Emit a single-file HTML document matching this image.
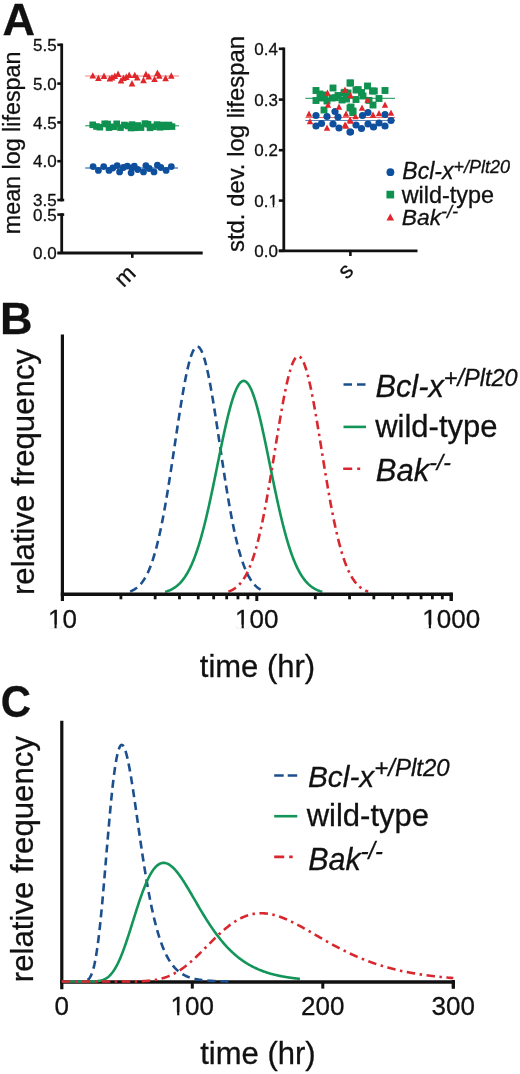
<!DOCTYPE html>
<html><head><meta charset="utf-8"><title>Figure</title>
<style>
html,body{margin:0;padding:0;background:#fff;width:520px;height:1074px;overflow:hidden;}
svg{display:block;will-change:transform;}
text{font-family:"Liberation Sans",sans-serif;stroke:#111;stroke-width:0.3px;}
</style></head><body>
<svg width="520" height="1074" viewBox="0 0 520 1074">
<rect width="520" height="1074" fill="#fff"/>
<text x="2.45" y="34.60" font-size="45" text-anchor="start" font-weight="bold" font-style="normal" fill="#111" >A</text>
<line x1="61.70" y1="43.50" x2="61.70" y2="201.30" stroke="#111" stroke-width="2.8" />
<line x1="57.30" y1="44.80" x2="61.70" y2="44.80" stroke="#111" stroke-width="2.6" />
<text x="56.60" y="51.00" font-size="17" text-anchor="end" font-weight="normal" font-style="normal" fill="#111" >5.5</text>
<line x1="57.30" y1="83.60" x2="61.70" y2="83.60" stroke="#111" stroke-width="2.6" />
<text x="56.60" y="89.80" font-size="17" text-anchor="end" font-weight="normal" font-style="normal" fill="#111" >5.0</text>
<line x1="57.30" y1="122.40" x2="61.70" y2="122.40" stroke="#111" stroke-width="2.6" />
<text x="56.60" y="128.60" font-size="17" text-anchor="end" font-weight="normal" font-style="normal" fill="#111" >4.5</text>
<line x1="57.30" y1="161.20" x2="61.70" y2="161.20" stroke="#111" stroke-width="2.6" />
<text x="56.60" y="167.40" font-size="17" text-anchor="end" font-weight="normal" font-style="normal" fill="#111" >4.0</text>
<line x1="57.30" y1="200.00" x2="61.70" y2="200.00" stroke="#111" stroke-width="2.6" />
<text x="56.60" y="206.20" font-size="17" text-anchor="end" font-weight="normal" font-style="normal" fill="#111" >3.5</text>
<line x1="60.70" y1="200.00" x2="64.20" y2="200.00" stroke="#111" stroke-width="2.6" />
<line x1="61.70" y1="213.30" x2="61.70" y2="253.00" stroke="#111" stroke-width="2.8" />
<line x1="57.30" y1="214.60" x2="64.20" y2="214.60" stroke="#111" stroke-width="2.6" />
<text x="56.60" y="220.80" font-size="17" text-anchor="end" font-weight="normal" font-style="normal" fill="#111" >0.5</text>
<line x1="57.30" y1="253.00" x2="202.70" y2="253.00" stroke="#111" stroke-width="2.8" />
<text x="56.60" y="259.20" font-size="17" text-anchor="end" font-weight="normal" font-style="normal" fill="#111" >0.0</text>
<line x1="132.30" y1="253.00" x2="132.30" y2="257.90" stroke="#111" stroke-width="2.6" />
<text transform="translate(126.5,277.5) rotate(-45)" x="0" y="5.5" font-size="23" text-anchor="middle" fill="#111">m</text>
<text transform="translate(20.2,142.9) rotate(-90)" x="0" y="0" font-size="23.3" text-anchor="middle" fill="#111">mean log lifespan</text>
<line x1="85.20" y1="76.00" x2="179.00" y2="76.00" stroke="#ef6f6f" stroke-width="0.9" />
<line x1="85.20" y1="125.80" x2="179.00" y2="125.80" stroke="#0f9150" stroke-width="1.0" />
<line x1="85.20" y1="168.00" x2="178.00" y2="168.00" stroke="#0e4f9e" stroke-width="1.0" />
<path d="M92.80,72.18 L96.10,78.58 L89.50,78.58 Z" fill="#e0262b"/>
<path d="M98.40,74.68 L101.70,81.08 L95.10,81.08 Z" fill="#e0262b"/>
<path d="M104.00,72.48 L107.30,78.88 L100.70,78.88 Z" fill="#e0262b"/>
<path d="M109.80,75.18 L113.10,81.58 L106.50,81.58 Z" fill="#e0262b"/>
<path d="M114.80,72.48 L118.10,78.88 L111.50,78.88 Z" fill="#e0262b"/>
<path d="M118.10,70.48 L121.40,76.88 L114.80,76.88 Z" fill="#e0262b"/>
<path d="M121.00,76.98 L124.30,83.38 L117.70,83.38 Z" fill="#e0262b"/>
<path d="M126.30,73.48 L129.60,79.88 L123.00,79.88 Z" fill="#e0262b"/>
<path d="M129.20,71.48 L132.50,77.88 L125.90,77.88 Z" fill="#e0262b"/>
<path d="M132.00,79.98 L135.30,86.38 L128.70,86.38 Z" fill="#e0262b"/>
<path d="M134.80,71.68 L138.10,78.08 L131.50,78.08 Z" fill="#e0262b"/>
<path d="M137.20,74.18 L140.50,80.58 L133.90,80.58 Z" fill="#e0262b"/>
<path d="M143.50,76.78 L146.80,83.18 L140.20,83.18 Z" fill="#e0262b"/>
<path d="M145.90,70.78 L149.20,77.18 L142.60,77.18 Z" fill="#e0262b"/>
<path d="M148.80,72.98 L152.10,79.38 L145.50,79.38 Z" fill="#e0262b"/>
<path d="M154.50,75.68 L157.80,82.08 L151.20,82.08 Z" fill="#e0262b"/>
<path d="M157.40,69.48 L160.70,75.88 L154.10,75.88 Z" fill="#e0262b"/>
<path d="M159.30,72.28 L162.60,78.68 L156.00,78.68 Z" fill="#e0262b"/>
<path d="M165.60,74.78 L168.90,81.18 L162.30,81.18 Z" fill="#e0262b"/>
<path d="M171.30,72.28 L174.60,78.68 L168.00,78.68 Z" fill="#e0262b"/>
<path d="M112.00,73.98 L115.30,80.38 L108.70,80.38 Z" fill="#e0262b"/>
<path d="M123.50,74.48 L126.80,80.88 L120.20,80.88 Z" fill="#e0262b"/>
<rect x="89.40" y="121.50" width="6.6" height="6.6" fill="#0f9150"/>
<rect x="93.20" y="123.20" width="6.6" height="6.6" fill="#0f9150"/>
<rect x="96.60" y="123.90" width="6.6" height="6.6" fill="#0f9150"/>
<rect x="101.40" y="120.50" width="6.6" height="6.6" fill="#0f9150"/>
<rect x="104.30" y="120.70" width="6.6" height="6.6" fill="#0f9150"/>
<rect x="105.70" y="124.30" width="6.6" height="6.6" fill="#0f9150"/>
<rect x="110.50" y="123.50" width="6.6" height="6.6" fill="#0f9150"/>
<rect x="113.40" y="120.50" width="6.6" height="6.6" fill="#0f9150"/>
<rect x="117.20" y="124.30" width="6.6" height="6.6" fill="#0f9150"/>
<rect x="121.10" y="121.70" width="6.6" height="6.6" fill="#0f9150"/>
<rect x="124.90" y="122.70" width="6.6" height="6.6" fill="#0f9150"/>
<rect x="128.70" y="121.30" width="6.6" height="6.6" fill="#0f9150"/>
<rect x="127.70" y="124.70" width="6.6" height="6.6" fill="#0f9150"/>
<rect x="131.70" y="124.50" width="6.6" height="6.6" fill="#0f9150"/>
<rect x="134.70" y="122.20" width="6.6" height="6.6" fill="#0f9150"/>
<rect x="137.70" y="124.30" width="6.6" height="6.6" fill="#0f9150"/>
<rect x="141.70" y="120.30" width="6.6" height="6.6" fill="#0f9150"/>
<rect x="144.70" y="120.90" width="6.6" height="6.6" fill="#0f9150"/>
<rect x="146.70" y="124.50" width="6.6" height="6.6" fill="#0f9150"/>
<rect x="150.20" y="123.50" width="6.6" height="6.6" fill="#0f9150"/>
<rect x="153.70" y="121.30" width="6.6" height="6.6" fill="#0f9150"/>
<rect x="156.70" y="124.00" width="6.6" height="6.6" fill="#0f9150"/>
<rect x="159.70" y="121.70" width="6.6" height="6.6" fill="#0f9150"/>
<rect x="162.70" y="123.50" width="6.6" height="6.6" fill="#0f9150"/>
<rect x="165.70" y="121.70" width="6.6" height="6.6" fill="#0f9150"/>
<rect x="168.70" y="123.30" width="6.6" height="6.6" fill="#0f9150"/>
<circle cx="93.10" cy="166.60" r="3.4" fill="#0e4f9e"/>
<circle cx="98.40" cy="170.40" r="3.4" fill="#0e4f9e"/>
<circle cx="103.70" cy="166.60" r="3.4" fill="#0e4f9e"/>
<circle cx="109.00" cy="170.40" r="3.4" fill="#0e4f9e"/>
<circle cx="112.80" cy="168.00" r="3.4" fill="#0e4f9e"/>
<circle cx="117.20" cy="165.60" r="3.4" fill="#0e4f9e"/>
<circle cx="119.60" cy="171.90" r="3.4" fill="#0e4f9e"/>
<circle cx="123.40" cy="167.50" r="3.4" fill="#0e4f9e"/>
<circle cx="127.30" cy="166.10" r="3.4" fill="#0e4f9e"/>
<circle cx="131.10" cy="172.80" r="3.4" fill="#0e4f9e"/>
<circle cx="132.00" cy="168.00" r="3.4" fill="#0e4f9e"/>
<circle cx="134.30" cy="166.10" r="3.4" fill="#0e4f9e"/>
<circle cx="137.70" cy="169.50" r="3.4" fill="#0e4f9e"/>
<circle cx="143.50" cy="171.90" r="3.4" fill="#0e4f9e"/>
<circle cx="145.90" cy="165.60" r="3.4" fill="#0e4f9e"/>
<circle cx="149.20" cy="168.50" r="3.4" fill="#0e4f9e"/>
<circle cx="154.00" cy="171.90" r="3.4" fill="#0e4f9e"/>
<circle cx="157.40" cy="165.10" r="3.4" fill="#0e4f9e"/>
<circle cx="160.80" cy="167.50" r="3.4" fill="#0e4f9e"/>
<circle cx="166.10" cy="170.40" r="3.4" fill="#0e4f9e"/>
<circle cx="171.30" cy="166.60" r="3.4" fill="#0e4f9e"/>
<line x1="283.80" y1="47.50" x2="283.80" y2="252.00" stroke="#111" stroke-width="2.8" />
<line x1="278.80" y1="48.80" x2="283.80" y2="48.80" stroke="#111" stroke-width="2.6" />
<text x="278.00" y="55.00" font-size="17" text-anchor="end" font-weight="normal" font-style="normal" fill="#111" >0.4</text>
<line x1="278.80" y1="99.60" x2="283.80" y2="99.60" stroke="#111" stroke-width="2.6" />
<text x="278.00" y="105.80" font-size="17" text-anchor="end" font-weight="normal" font-style="normal" fill="#111" >0.3</text>
<line x1="278.80" y1="150.20" x2="283.80" y2="150.20" stroke="#111" stroke-width="2.6" />
<text x="278.00" y="156.40" font-size="17" text-anchor="end" font-weight="normal" font-style="normal" fill="#111" >0.2</text>
<line x1="278.80" y1="200.60" x2="283.80" y2="200.60" stroke="#111" stroke-width="2.6" />
<text x="278.00" y="206.80" font-size="17" text-anchor="end" font-weight="normal" font-style="normal" fill="#111" >0.1</text>
<rect x="269.40" y="204.93" width="3.43" height="2.72" fill="#fff"/>
<rect x="274.21" y="204.93" width="3.35" height="2.72" fill="#fff"/>
<line x1="278.80" y1="250.80" x2="283.80" y2="250.80" stroke="#111" stroke-width="2.6" />
<text x="278.00" y="257.00" font-size="17" text-anchor="end" font-weight="normal" font-style="normal" fill="#111" >0.0</text>
<line x1="278.80" y1="250.80" x2="417.50" y2="250.80" stroke="#111" stroke-width="2.8" />
<line x1="350.40" y1="250.80" x2="350.40" y2="256.00" stroke="#111" stroke-width="2.6" />
<text transform="translate(347.2,272.5) rotate(-45)" x="0" y="5" font-size="22.5" text-anchor="middle" fill="#111">s</text>
<text transform="translate(244,144) rotate(-90)" x="0" y="0" font-size="23.9" text-anchor="middle" fill="#111">std. dev. log lifespan</text>
<line x1="305.30" y1="98.30" x2="395.00" y2="98.30" stroke="#0f9150" stroke-width="1.0" />
<line x1="305.30" y1="120.50" x2="395.00" y2="120.50" stroke="#0e4f9e" stroke-width="0.7" />
<line x1="305.30" y1="117.50" x2="395.00" y2="117.50" stroke="#e0262b" stroke-width="0.7" />
<rect x="312.55" y="87.05" width="6.9" height="6.9" fill="#0f9150"/>
<rect x="312.55" y="97.05" width="6.9" height="6.9" fill="#0f9150"/>
<rect x="318.05" y="94.55" width="6.9" height="6.9" fill="#0f9150"/>
<rect x="329.55" y="84.55" width="6.9" height="6.9" fill="#0f9150"/>
<rect x="328.55" y="94.55" width="6.9" height="6.9" fill="#0f9150"/>
<rect x="334.55" y="92.05" width="6.9" height="6.9" fill="#0f9150"/>
<rect x="338.55" y="96.55" width="6.9" height="6.9" fill="#0f9150"/>
<rect x="346.55" y="79.55" width="6.9" height="6.9" fill="#0f9150"/>
<rect x="344.55" y="89.55" width="6.9" height="6.9" fill="#0f9150"/>
<rect x="320.55" y="106.55" width="6.9" height="6.9" fill="#0f9150"/>
<rect x="346.55" y="104.55" width="6.9" height="6.9" fill="#0f9150"/>
<rect x="347.05" y="79.55" width="6.9" height="6.9" fill="#0f9150"/>
<rect x="352.55" y="86.55" width="6.9" height="6.9" fill="#0f9150"/>
<rect x="358.05" y="89.05" width="6.9" height="6.9" fill="#0f9150"/>
<rect x="364.05" y="82.55" width="6.9" height="6.9" fill="#0f9150"/>
<rect x="369.05" y="87.55" width="6.9" height="6.9" fill="#0f9150"/>
<rect x="381.55" y="87.05" width="6.9" height="6.9" fill="#0f9150"/>
<rect x="343.05" y="95.55" width="6.9" height="6.9" fill="#0f9150"/>
<rect x="352.55" y="96.05" width="6.9" height="6.9" fill="#0f9150"/>
<rect x="359.55" y="92.55" width="6.9" height="6.9" fill="#0f9150"/>
<rect x="375.55" y="95.05" width="6.9" height="6.9" fill="#0f9150"/>
<rect x="369.55" y="101.55" width="6.9" height="6.9" fill="#0f9150"/>
<rect x="347.55" y="103.55" width="6.9" height="6.9" fill="#0f9150"/>
<rect x="349.55" y="107.55" width="6.9" height="6.9" fill="#0f9150"/>
<rect x="323.55" y="97.55" width="6.9" height="6.9" fill="#0f9150"/>
<rect x="340.55" y="89.55" width="6.9" height="6.9" fill="#0f9150"/>
<rect x="321.05" y="91.55" width="6.9" height="6.9" fill="#0f9150"/>
<rect x="331.85" y="94.25" width="6.9" height="6.9" fill="#0f9150"/>
<rect x="341.25" y="88.85" width="6.9" height="6.9" fill="#0f9150"/>
<rect x="354.75" y="86.15" width="6.9" height="6.9" fill="#0f9150"/>
<rect x="370.85" y="87.55" width="6.9" height="6.9" fill="#0f9150"/>
<rect x="365.55" y="96.95" width="6.9" height="6.9" fill="#0f9150"/>
<rect x="349.35" y="109.15" width="6.9" height="6.9" fill="#0f9150"/>
<rect x="316.55" y="90.55" width="6.9" height="6.9" fill="#0f9150"/>
<circle cx="316.00" cy="115.50" r="3.6" fill="#0e4f9e"/>
<circle cx="327.00" cy="116.50" r="3.6" fill="#0e4f9e"/>
<circle cx="335.00" cy="111.50" r="3.6" fill="#0e4f9e"/>
<circle cx="338.00" cy="117.00" r="3.6" fill="#0e4f9e"/>
<circle cx="316.00" cy="126.00" r="3.6" fill="#0e4f9e"/>
<circle cx="321.50" cy="123.50" r="3.6" fill="#0e4f9e"/>
<circle cx="333.00" cy="124.00" r="3.6" fill="#0e4f9e"/>
<circle cx="339.00" cy="128.00" r="3.6" fill="#0e4f9e"/>
<circle cx="350.00" cy="132.00" r="3.6" fill="#0e4f9e"/>
<circle cx="362.50" cy="115.50" r="3.6" fill="#0e4f9e"/>
<circle cx="368.00" cy="112.50" r="3.6" fill="#0e4f9e"/>
<circle cx="385.00" cy="114.50" r="3.6" fill="#0e4f9e"/>
<circle cx="391.00" cy="120.50" r="3.6" fill="#0e4f9e"/>
<circle cx="356.00" cy="125.00" r="3.6" fill="#0e4f9e"/>
<circle cx="361.50" cy="128.50" r="3.6" fill="#0e4f9e"/>
<circle cx="368.00" cy="124.00" r="3.6" fill="#0e4f9e"/>
<circle cx="373.50" cy="127.00" r="3.6" fill="#0e4f9e"/>
<circle cx="379.00" cy="123.00" r="3.6" fill="#0e4f9e"/>
<circle cx="385.00" cy="126.00" r="3.6" fill="#0e4f9e"/>
<circle cx="350.50" cy="132.00" r="3.6" fill="#0e4f9e"/>
<path d="M327.50,89.59 L330.70,95.79 L324.30,95.79 Z" fill="#e0262b"/>
<path d="M345.00,86.59 L348.20,92.79 L341.80,92.79 Z" fill="#e0262b"/>
<path d="M328.00,101.59 L331.20,107.79 L324.80,107.79 Z" fill="#e0262b"/>
<path d="M339.00,103.59 L342.20,109.79 L335.80,109.79 Z" fill="#e0262b"/>
<path d="M309.00,110.59 L312.20,116.79 L305.80,116.79 Z" fill="#e0262b"/>
<path d="M310.00,118.09 L313.20,124.29 L306.80,124.29 Z" fill="#e0262b"/>
<path d="M327.00,124.59 L330.20,130.79 L323.80,130.79 Z" fill="#e0262b"/>
<path d="M345.00,121.59 L348.20,127.79 L341.80,127.79 Z" fill="#e0262b"/>
<path d="M346.00,110.59 L349.20,116.79 L342.80,116.79 Z" fill="#e0262b"/>
<path d="M350.00,116.59 L353.20,122.79 L346.80,122.79 Z" fill="#e0262b"/>
<path d="M350.50,92.09 L353.70,98.29 L347.30,98.29 Z" fill="#e0262b"/>
<path d="M367.50,96.59 L370.70,102.79 L364.30,102.79 Z" fill="#e0262b"/>
<path d="M385.00,101.59 L388.20,107.79 L381.80,107.79 Z" fill="#e0262b"/>
<path d="M362.00,104.59 L365.20,110.79 L358.80,110.79 Z" fill="#e0262b"/>
<path d="M355.50,113.09 L358.70,119.29 L352.30,119.29 Z" fill="#e0262b"/>
<path d="M373.00,111.59 L376.20,117.79 L369.80,117.79 Z" fill="#e0262b"/>
<path d="M379.00,110.09 L382.20,116.29 L375.80,116.29 Z" fill="#e0262b"/>
<path d="M391.00,109.59 L394.20,115.79 L387.80,115.79 Z" fill="#e0262b"/>
<path d="M350.50,117.59 L353.70,123.79 L347.30,123.79 Z" fill="#e0262b"/>
<path d="M346.00,122.59 L349.20,128.79 L342.80,128.79 Z" fill="#e0262b"/>
<circle cx="390.40" cy="172.20" r="3.9" fill="#0e4f9e"/>
<rect x="386.45" y="190.75" width="7.7" height="7.7" fill="#0f9150"/>
<path d="M390.3,213.6 L394.1,220.6 L386.5,220.6 Z" fill="#e0262b"/>
<text x="402.3" y="179.2" font-size="23" font-style="italic" fill="#111">Bcl-x<tspan font-size="18" dy="-6.0">+/Plt20</tspan></text>
<text x="401.7" y="202.9" font-size="23.4" fill="#111">wild-type</text>
<text x="401.8" y="225.2" font-size="22.8" font-style="italic" fill="#111">Bak<tspan font-size="18" dy="-6.8">-/-</tspan></text>
<text x="0.00" y="333.50" font-size="45" text-anchor="start" font-weight="bold" font-style="normal" fill="#111" >B</text>
<path d="M130.10,591.45 L130.77,591.19 L131.44,590.91 L132.12,590.61 L132.79,590.29 L133.46,589.93 L134.13,589.56 L134.80,589.15 L135.48,588.71 L136.15,588.24 L136.82,587.73 L137.49,587.19 L138.16,586.61 L138.84,585.99 L139.51,585.32 L140.18,584.61 L140.85,583.85 L141.52,583.05 L142.20,582.19 L142.87,581.27 L143.54,580.30 L144.21,579.27 L144.88,578.18 L145.56,577.02 L146.23,575.80 L146.90,574.50 L147.57,573.13 L148.24,571.69 L148.92,570.18 L149.59,568.58 L150.26,566.90 L150.93,565.14 L151.60,563.29 L152.28,561.36 L152.95,559.33 L153.62,557.21 L154.29,555.00 L154.96,552.70 L155.64,550.30 L156.31,547.80 L156.98,545.20 L157.65,542.50 L158.32,539.71 L159.00,536.82 L159.67,533.82 L160.34,530.73 L161.01,527.54 L161.68,524.25 L162.36,520.87 L163.03,517.39 L163.70,513.82 L164.37,510.15 L165.04,506.40 L165.72,502.57 L166.39,498.65 L167.06,494.66 L167.73,490.59 L168.40,486.46 L169.08,482.25 L169.75,477.99 L170.42,473.68 L171.09,469.32 L171.76,464.92 L172.44,460.48 L173.11,456.01 L173.78,451.53 L174.45,447.03 L175.12,442.52 L175.80,438.02 L176.47,433.53 L177.14,429.06 L177.81,424.61 L178.48,420.21 L179.16,415.85 L179.83,411.54 L180.50,407.30 L181.17,403.13 L181.84,399.05 L182.52,395.06 L183.19,391.17 L183.86,387.39 L184.53,383.73 L185.20,380.19 L185.88,376.79 L186.55,373.54 L187.22,370.44 L187.89,367.50 L188.56,364.73 L189.24,362.14 L189.91,359.72 L190.58,357.50 L191.25,355.46 L191.92,353.63 L192.60,352.00 L193.27,350.58 L193.94,349.37 L194.61,348.38 L195.28,347.60 L195.96,347.05 L196.63,346.71 L197.30,346.60 L197.97,346.71 L198.64,347.05 L199.32,347.60 L199.99,348.38 L200.66,349.37 L201.33,350.58 L202.00,352.00 L202.68,353.63 L203.35,355.46 L204.02,357.50 L204.69,359.72 L205.36,362.14 L206.04,364.73 L206.71,367.50 L207.38,370.44 L208.05,373.54 L208.72,376.79 L209.40,380.19 L210.07,383.73 L210.74,387.39 L211.41,391.17 L212.08,395.06 L212.76,399.05 L213.43,403.13 L214.10,407.30 L214.77,411.54 L215.44,415.85 L216.12,420.21 L216.79,424.61 L217.46,429.06 L218.13,433.53 L218.80,438.02 L219.48,442.52 L220.15,447.03 L220.82,451.53 L221.49,456.01 L222.16,460.48 L222.84,464.92 L223.51,469.32 L224.18,473.68 L224.85,477.99 L225.52,482.25 L226.20,486.46 L226.87,490.59 L227.54,494.66 L228.21,498.65 L228.88,502.57 L229.56,506.40 L230.23,510.15 L230.90,513.82 L231.57,517.39 L232.24,520.87 L232.92,524.25 L233.59,527.54 L234.26,530.73 L234.93,533.82 L235.60,536.82 L236.28,539.71 L236.95,542.50 L237.62,545.20 L238.29,547.80 L238.96,550.30 L239.64,552.70 L240.31,555.00 L240.98,557.21 L241.65,559.33 L242.32,561.36 L243.00,563.29 L243.67,565.14 L244.34,566.90 L245.01,568.58 L245.68,570.18 L246.36,571.69 L247.03,573.13 L247.70,574.50 L248.37,575.80 L249.04,577.02 L249.72,578.18 L250.39,579.27 L251.06,580.30 L251.73,581.27 L252.40,582.19 L253.08,583.05 L253.75,583.85 L254.42,584.61 L255.09,585.32 L255.76,585.99 L256.44,586.61 L257.11,587.19 L257.78,587.73 L258.45,588.24 L259.12,588.71 L259.80,589.15 L260.47,589.56 L261.14,589.93 L261.81,590.29 L262.48,590.61 L263.16,590.91 L263.83,591.19 L264.50,591.45" fill="none" stroke="#1b4f8e" stroke-width="2.6" stroke-dasharray="8,5" stroke-linejoin="round"/>
<path d="M165.10,591.83 L165.89,591.61 L166.67,591.37 L167.46,591.11 L168.24,590.83 L169.03,590.53 L169.82,590.20 L170.60,589.85 L171.39,589.47 L172.17,589.06 L172.96,588.63 L173.75,588.16 L174.53,587.66 L175.32,587.12 L176.10,586.55 L176.89,585.94 L177.68,585.29 L178.46,584.59 L179.25,583.85 L180.03,583.06 L180.82,582.23 L181.61,581.34 L182.39,580.40 L183.18,579.40 L183.96,578.34 L184.75,577.23 L185.54,576.05 L186.32,574.81 L187.11,573.50 L187.89,572.13 L188.68,570.68 L189.47,569.17 L190.25,567.57 L191.04,565.91 L191.82,564.16 L192.61,562.34 L193.40,560.43 L194.18,558.45 L194.97,556.38 L195.75,554.23 L196.54,551.99 L197.33,549.67 L198.11,547.26 L198.90,544.77 L199.68,542.19 L200.47,539.52 L201.26,536.77 L202.04,533.94 L202.83,531.03 L203.61,528.03 L204.40,524.95 L205.19,521.80 L205.97,518.57 L206.76,515.26 L207.54,511.89 L208.33,508.45 L209.12,504.94 L209.90,501.38 L210.69,497.76 L211.47,494.09 L212.26,490.38 L213.05,486.62 L213.83,482.83 L214.62,479.00 L215.40,475.16 L216.19,471.29 L216.98,467.41 L217.76,463.53 L218.55,459.65 L219.33,455.79 L220.12,451.93 L220.91,448.11 L221.69,444.31 L222.48,440.55 L223.26,436.85 L224.05,433.19 L224.84,429.60 L225.62,426.08 L226.41,422.65 L227.19,419.29 L227.98,416.04 L228.77,412.88 L229.55,409.84 L230.34,406.91 L231.12,404.11 L231.91,401.44 L232.70,398.91 L233.48,396.52 L234.27,394.28 L235.05,392.20 L235.84,390.29 L236.63,388.53 L237.41,386.96 L238.20,385.55 L238.98,384.33 L239.77,383.29 L240.56,382.43 L241.34,381.76 L242.13,381.28 L242.91,381.00 L243.70,380.90 L244.49,381.00 L245.27,381.28 L246.06,381.76 L246.84,382.43 L247.63,383.29 L248.42,384.33 L249.20,385.55 L249.99,386.96 L250.77,388.53 L251.56,390.29 L252.35,392.20 L253.13,394.28 L253.92,396.52 L254.70,398.91 L255.49,401.44 L256.28,404.11 L257.06,406.91 L257.85,409.84 L258.63,412.88 L259.42,416.04 L260.21,419.29 L260.99,422.65 L261.78,426.08 L262.56,429.60 L263.35,433.19 L264.14,436.85 L264.92,440.55 L265.71,444.31 L266.49,448.11 L267.28,451.93 L268.07,455.79 L268.85,459.65 L269.64,463.53 L270.42,467.41 L271.21,471.29 L272.00,475.16 L272.78,479.00 L273.57,482.83 L274.35,486.62 L275.14,490.38 L275.93,494.09 L276.71,497.76 L277.50,501.38 L278.28,504.94 L279.07,508.45 L279.86,511.89 L280.64,515.26 L281.43,518.57 L282.21,521.80 L283.00,524.95 L283.79,528.03 L284.57,531.03 L285.36,533.94 L286.14,536.77 L286.93,539.52 L287.72,542.19 L288.50,544.77 L289.29,547.26 L290.07,549.67 L290.86,551.99 L291.65,554.23 L292.43,556.38 L293.22,558.45 L294.00,560.43 L294.79,562.34 L295.58,564.16 L296.36,565.91 L297.15,567.57 L297.93,569.17 L298.72,570.68 L299.51,572.13 L300.29,573.50 L301.08,574.81 L301.86,576.05 L302.65,577.23 L303.44,578.34 L304.22,579.40 L305.01,580.40 L305.79,581.34 L306.58,582.23 L307.37,583.06 L308.15,583.85 L308.94,584.59 L309.72,585.29 L310.51,585.94 L311.30,586.55 L312.08,587.12 L312.87,587.66 L313.65,588.16 L314.44,588.63 L315.23,589.06 L316.01,589.47 L316.80,589.85 L317.58,590.20 L318.37,590.53 L319.16,590.83 L319.94,591.11 L320.73,591.37 L321.51,591.61 L322.30,591.83" fill="none" stroke="#13955a" stroke-width="2.6" stroke-linejoin="round"/>
<path d="M228.40,591.56 L229.10,591.31 L229.80,591.04 L230.50,590.75 L231.20,590.44 L231.90,590.10 L232.59,589.74 L233.29,589.35 L233.99,588.92 L234.69,588.47 L235.39,587.99 L236.09,587.46 L236.79,586.91 L237.49,586.31 L238.19,585.67 L238.88,584.99 L239.58,584.26 L240.28,583.48 L240.98,582.66 L241.68,581.78 L242.38,580.85 L243.08,579.86 L243.78,578.80 L244.48,577.69 L245.18,576.52 L245.88,575.27 L246.57,573.96 L247.27,572.58 L247.97,571.12 L248.67,569.58 L249.37,567.97 L250.07,566.28 L250.77,564.50 L251.47,562.64 L252.17,560.70 L252.87,558.66 L253.56,556.54 L254.26,554.32 L254.96,552.02 L255.66,549.61 L256.36,547.12 L257.06,544.53 L257.76,541.84 L258.46,539.06 L259.16,536.19 L259.86,533.22 L260.55,530.15 L261.25,526.99 L261.95,523.74 L262.65,520.40 L263.35,516.97 L264.05,513.45 L264.75,509.84 L265.45,506.16 L266.15,502.40 L266.85,498.56 L267.54,494.65 L268.24,490.68 L268.94,486.64 L269.64,482.55 L270.34,478.40 L271.04,474.21 L271.74,469.98 L272.44,465.72 L273.14,461.43 L273.84,457.12 L274.53,452.79 L275.23,448.46 L275.93,444.14 L276.63,439.82 L277.33,435.53 L278.03,431.26 L278.73,427.02 L279.43,422.83 L280.13,418.70 L280.82,414.62 L281.52,410.62 L282.22,406.70 L282.92,402.86 L283.62,399.12 L284.32,395.49 L285.02,391.97 L285.72,388.58 L286.42,385.31 L287.12,382.19 L287.81,379.21 L288.51,376.38 L289.21,373.72 L289.91,371.23 L290.61,368.91 L291.31,366.77 L292.01,364.82 L292.71,363.05 L293.41,361.49 L294.11,360.12 L294.81,358.96 L295.50,358.01 L296.20,357.26 L296.90,356.73 L297.60,356.41 L298.30,356.30 L299.00,356.41 L299.70,356.73 L300.40,357.26 L301.10,358.01 L301.80,358.96 L302.49,360.12 L303.19,361.49 L303.89,363.05 L304.59,364.82 L305.29,366.77 L305.99,368.91 L306.69,371.23 L307.39,373.72 L308.09,376.38 L308.79,379.21 L309.48,382.19 L310.18,385.31 L310.88,388.58 L311.58,391.97 L312.28,395.49 L312.98,399.12 L313.68,402.86 L314.38,406.70 L315.08,410.62 L315.77,414.62 L316.47,418.70 L317.17,422.83 L317.87,427.02 L318.57,431.26 L319.27,435.53 L319.97,439.82 L320.67,444.14 L321.37,448.46 L322.07,452.79 L322.76,457.12 L323.46,461.43 L324.16,465.72 L324.86,469.98 L325.56,474.21 L326.26,478.40 L326.96,482.55 L327.66,486.64 L328.36,490.68 L329.06,494.65 L329.75,498.56 L330.45,502.40 L331.15,506.16 L331.85,509.84 L332.55,513.45 L333.25,516.97 L333.95,520.40 L334.65,523.74 L335.35,526.99 L336.05,530.15 L336.75,533.22 L337.44,536.19 L338.14,539.06 L338.84,541.84 L339.54,544.53 L340.24,547.12 L340.94,549.61 L341.64,552.02 L342.34,554.32 L343.04,556.54 L343.74,558.66 L344.43,560.70 L345.13,562.64 L345.83,564.50 L346.53,566.28 L347.23,567.97 L347.93,569.58 L348.63,571.12 L349.33,572.58 L350.03,573.96 L350.73,575.27 L351.42,576.52 L352.12,577.69 L352.82,578.80 L353.52,579.86 L354.22,580.85 L354.92,581.78 L355.62,582.66 L356.32,583.48 L357.02,584.26 L357.72,584.99 L358.41,585.67 L359.11,586.31 L359.81,586.91 L360.51,587.46 L361.21,587.99 L361.91,588.47 L362.61,588.92 L363.31,589.35 L364.01,589.74 L364.71,590.10 L365.40,590.44 L366.10,590.75 L366.80,591.04 L367.50,591.31 L368.20,591.56" fill="none" stroke="#d8272e" stroke-width="2.6" stroke-dasharray="8.5,4.5,2.5,4.5" stroke-linejoin="round"/>
<line x1="62.40" y1="334.60" x2="62.40" y2="601.00" stroke="#111" stroke-width="3.2" />
<line x1="60.80" y1="594.20" x2="452.80" y2="594.20" stroke="#111" stroke-width="3.4" />
<line x1="120.92" y1="594.20" x2="120.92" y2="599.30" stroke="#111" stroke-width="2.8" />
<line x1="155.15" y1="594.20" x2="155.15" y2="599.30" stroke="#111" stroke-width="2.8" />
<line x1="179.44" y1="594.20" x2="179.44" y2="599.30" stroke="#111" stroke-width="2.8" />
<line x1="198.28" y1="594.20" x2="198.28" y2="599.30" stroke="#111" stroke-width="2.8" />
<line x1="213.67" y1="594.20" x2="213.67" y2="599.30" stroke="#111" stroke-width="2.8" />
<line x1="226.69" y1="594.20" x2="226.69" y2="599.30" stroke="#111" stroke-width="2.8" />
<line x1="237.96" y1="594.20" x2="237.96" y2="599.30" stroke="#111" stroke-width="2.8" />
<line x1="247.90" y1="594.20" x2="247.90" y2="599.30" stroke="#111" stroke-width="2.8" />
<line x1="315.32" y1="594.20" x2="315.32" y2="599.30" stroke="#111" stroke-width="2.8" />
<line x1="349.55" y1="594.20" x2="349.55" y2="599.30" stroke="#111" stroke-width="2.8" />
<line x1="373.84" y1="594.20" x2="373.84" y2="599.30" stroke="#111" stroke-width="2.8" />
<line x1="392.68" y1="594.20" x2="392.68" y2="599.30" stroke="#111" stroke-width="2.8" />
<line x1="408.07" y1="594.20" x2="408.07" y2="599.30" stroke="#111" stroke-width="2.8" />
<line x1="421.09" y1="594.20" x2="421.09" y2="599.30" stroke="#111" stroke-width="2.8" />
<line x1="432.36" y1="594.20" x2="432.36" y2="599.30" stroke="#111" stroke-width="2.8" />
<line x1="442.30" y1="594.20" x2="442.30" y2="599.30" stroke="#111" stroke-width="2.8" />
<line x1="256.80" y1="594.20" x2="256.80" y2="601.00" stroke="#111" stroke-width="3.0" />
<line x1="451.20" y1="594.20" x2="451.20" y2="601.00" stroke="#111" stroke-width="3.0" />
<line x1="451.20" y1="592.70" x2="451.20" y2="601.00" stroke="#111" stroke-width="3.0" />
<text x="62.40" y="627.50" font-size="26" text-anchor="middle" font-weight="normal" font-style="normal" fill="#111" >10</text>
<rect x="49.24" y="624.64" width="5.25" height="4.16" fill="#fff"/>
<rect x="56.60" y="624.64" width="5.12" height="4.16" fill="#fff"/>
<text x="256.80" y="627.50" font-size="26" text-anchor="middle" font-weight="normal" font-style="normal" fill="#111" >100</text>
<rect x="236.42" y="624.64" width="5.25" height="4.16" fill="#fff"/>
<rect x="243.77" y="624.64" width="5.12" height="4.16" fill="#fff"/>
<text x="451.20" y="627.50" font-size="26" text-anchor="middle" font-weight="normal" font-style="normal" fill="#111" >1000</text>
<rect x="423.59" y="624.64" width="5.25" height="4.16" fill="#fff"/>
<rect x="430.95" y="624.64" width="5.12" height="4.16" fill="#fff"/>
<text transform="translate(34.0,472) rotate(-90)" x="0" y="0" font-size="31.2" text-anchor="middle" fill="#111">relative frequency</text>
<text x="257.50" y="676.90" font-size="31" text-anchor="middle" font-weight="normal" font-style="normal" fill="#111" >time (hr)</text>
<line x1="343.50" y1="384.50" x2="366.50" y2="384.50" stroke="#1b4f8e" stroke-width="2.6" stroke-dasharray="8.5,5"/>
<line x1="343.50" y1="426.90" x2="366.00" y2="426.90" stroke="#13955a" stroke-width="2.6" />
<line x1="343.20" y1="468.70" x2="361.00" y2="468.70" stroke="#d8272e" stroke-width="2.6" stroke-dasharray="9,5,3,50"/>
<text x="375.4" y="396.8" font-size="30.8" font-style="italic" fill="#111">Bcl-x<tspan font-size="23.5" dy="-10.9">+/Plt20</tspan></text>
<text x="375.2" y="436.8" font-size="31" fill="#111">wild-type</text>
<text x="375.8" y="481" font-size="31" font-style="italic" fill="#111">Bak<tspan font-size="22.8" dy="-10.8">-/-</tspan></text>
<text transform="translate(0.7,716.5) scale(0.93,1)" x="0" y="0" font-size="45" font-weight="bold" fill="#111">C</text>
<line x1="61.80" y1="720.80" x2="61.80" y2="989.20" stroke="#111" stroke-width="3.2" />
<line x1="60.20" y1="982.00" x2="454.90" y2="982.00" stroke="#111" stroke-width="3.4" />
<line x1="192.30" y1="982.00" x2="192.30" y2="988.60" stroke="#111" stroke-width="3.0" />
<line x1="322.80" y1="982.00" x2="322.80" y2="988.60" stroke="#111" stroke-width="3.0" />
<line x1="453.30" y1="982.00" x2="453.30" y2="988.60" stroke="#111" stroke-width="3.0" />
<line x1="453.30" y1="980.00" x2="453.30" y2="988.60" stroke="#111" stroke-width="3.0" />
<path d="M61.80,981.50 L62.22,981.50 L62.65,981.50 L63.07,981.50 L63.50,981.50 L63.92,981.50 L64.34,981.50 L64.77,981.50 L65.19,981.50 L65.62,981.50 L66.04,981.50 L66.47,981.50 L66.89,981.50 L67.31,981.50 L67.74,981.50 L68.16,981.50 L68.59,981.50 L69.01,981.50 L69.43,981.50 L69.86,981.50 L70.28,981.50 L70.71,981.50 L71.13,981.50 L71.55,981.50 L71.98,981.50 L72.40,981.50 L72.83,981.50 L73.25,981.50 L73.68,981.50 L74.10,981.50 L74.52,981.50 L74.95,981.50 L75.37,981.50 L75.80,981.50 L76.22,981.50 L76.64,981.50 L77.07,981.50 L77.49,981.50 L77.92,981.50 L78.34,981.50 L78.77,981.50 L79.19,981.50 L79.61,981.49 L80.04,981.49 L80.46,981.48 L80.89,981.48 L81.31,981.47 L81.73,981.46 L82.16,981.44 L82.58,981.42 L83.01,981.39 L83.43,981.35 L83.85,981.30 L84.28,981.24 L84.70,981.17 L85.13,981.08 L85.55,980.96 L85.98,980.82 L86.40,980.65 L86.82,980.45 L87.25,980.21 L87.67,979.92 L88.10,979.59 L88.52,979.20 L88.94,978.75 L89.37,978.23 L89.79,977.64 L90.22,976.97 L90.64,976.21 L91.06,975.35 L91.49,974.39 L91.91,973.32 L92.34,972.14 L92.76,970.83 L93.19,969.39 L93.61,967.82 L94.03,966.11 L94.46,964.26 L94.88,962.25 L95.31,960.09 L95.73,957.77 L96.15,955.30 L96.58,952.66 L97.00,949.86 L97.43,946.90 L97.85,943.78 L98.27,940.50 L98.70,937.06 L99.12,933.46 L99.55,929.71 L99.97,925.82 L100.40,921.79 L100.82,917.62 L101.24,913.33 L101.67,908.91 L102.09,904.39 L102.52,899.76 L102.94,895.04 L103.36,890.24 L103.79,885.36 L104.21,880.42 L104.64,875.43 L105.06,870.41 L105.48,865.35 L105.91,860.28 L106.33,855.20 L106.76,850.13 L107.18,845.08 L107.61,840.05 L108.03,835.07 L108.45,830.14 L108.88,825.28 L109.30,820.49 L109.73,815.78 L110.15,811.17 L110.57,806.66 L111.00,802.26 L111.42,797.99 L111.85,793.84 L112.27,789.83 L112.69,785.97 L113.12,782.26 L113.54,778.70 L113.97,775.31 L114.39,772.08 L114.82,769.02 L115.24,766.14 L115.66,763.44 L116.09,760.92 L116.51,758.58 L116.94,756.42 L117.36,754.46 L117.78,752.68 L118.21,751.08 L118.63,749.67 L119.06,748.45 L119.48,747.41 L119.91,746.56 L120.33,745.88 L120.75,745.38 L121.18,745.06 L121.60,744.91 L122.03,744.93 L122.45,745.12 L122.87,745.47 L123.30,745.97 L123.72,746.63 L124.15,747.44 L124.57,748.39 L124.99,749.48 L125.42,750.71 L125.84,752.06 L126.27,753.54 L126.69,755.14 L127.12,756.86 L127.54,758.68 L127.96,760.61 L128.39,762.63 L128.81,764.75 L129.24,766.96 L129.66,769.25 L130.08,771.61 L130.51,774.05 L130.93,776.56 L131.36,779.13 L131.78,781.75 L132.20,784.43 L132.63,787.16 L133.05,789.93 L133.48,792.74 L133.90,795.59 L134.33,798.46 L134.75,801.36 L135.17,804.28 L135.60,807.23 L136.02,810.18 L136.45,813.15 L136.87,816.13 L137.29,819.11 L137.72,822.09 L138.14,825.07 L138.57,828.04 L138.99,831.01 L139.41,833.97 L139.84,836.91 L140.26,839.84 L140.69,842.75 L141.11,845.65 L141.54,848.52 L141.96,851.37 L142.38,854.19 L142.81,856.98 L143.23,859.75 L143.66,862.49 L144.08,865.20 L144.50,867.87 L144.93,870.51 L145.35,873.12 L145.78,875.69 L146.20,878.23 L146.62,880.72 L147.05,883.19 L147.47,885.61 L147.90,887.99 L148.32,890.34 L148.75,892.64 L149.17,894.91 L149.59,897.13 L150.02,899.31 L150.44,901.46 L150.87,903.56 L151.29,905.62 L151.71,907.65 L152.14,909.63 L152.56,911.57 L152.99,913.47 L153.41,915.33 L153.84,917.16 L154.26,918.94 L154.68,920.68 L155.11,922.39 L155.53,924.05 L155.96,925.68 L156.38,927.27 L156.80,928.83 L157.23,930.34 L157.65,931.82 L158.08,933.27 L158.50,934.68 L158.92,936.05 L159.35,937.39 L159.77,938.70 L160.20,939.98 L160.62,941.22 L161.05,942.43 L161.47,943.60 L161.89,944.75 L162.32,945.87 L162.74,946.96 L163.17,948.01 L163.59,949.04 L164.01,950.04 L164.44,951.02 L164.86,951.97 L165.29,952.89 L165.71,953.78 L166.13,954.65 L166.56,955.50 L166.98,956.32 L167.41,957.12 L167.83,957.89 L168.26,958.64 L168.68,959.37 L169.10,960.08 L169.53,960.77 L169.95,961.44 L170.38,962.09 L170.80,962.72 L171.22,963.33 L171.65,963.92 L172.07,964.49 L172.50,965.05 L172.92,965.59 L173.34,966.11 L173.77,966.62 L174.19,967.11 L174.62,967.59 L175.04,968.05 L175.47,968.50 L175.89,968.93 L176.31,969.35 L176.74,969.76 L177.16,970.15 L177.59,970.53 L178.01,970.90 L178.43,971.26 L178.86,971.60 L179.28,971.94 L179.71,972.26 L180.13,972.58 L180.56,972.88 L180.98,973.17 L181.40,973.46 L181.83,973.73 L182.25,974.00 L182.68,974.26 L183.10,974.50 L183.52,974.74 L183.95,974.98 L184.37,975.20 L184.80,975.42 L185.22,975.63 L185.64,975.83 L186.07,976.03 L186.49,976.22 L186.92,976.40 L187.34,976.58 L187.77,976.75 L188.19,976.92 L188.61,977.08 L189.04,977.23 L189.46,977.38 L189.89,977.52 L190.31,977.66 L190.73,977.80 L191.16,977.93 L191.58,978.05 L192.01,978.17 L192.43,978.29 L192.85,978.40 L193.28,978.51 L193.70,978.62 L194.13,978.72 L194.55,978.82 L194.98,978.91 L195.40,979.01 L195.82,979.09 L196.25,979.18 L196.67,979.26 L197.10,979.34 L197.52,979.42 L197.94,979.49 L198.37,979.56 L198.79,979.63 L199.22,979.70 L199.64,979.76 L200.06,979.83 L200.49,979.89 L200.91,979.94 L201.34,980.00 L201.76,980.05 L202.19,980.10 L202.61,980.15 L203.03,980.20 L203.46,980.25 L203.88,980.29 L204.31,980.34 L204.73,980.38 L205.15,980.42 L205.58,980.46 L206.00,980.50 L206.43,980.53 L206.85,980.57 L207.27,980.60 L207.70,980.63 L208.12,980.66 L208.55,980.69 L208.97,980.72 L209.40,980.75 L209.82,980.78 L210.24,980.80 L210.67,980.83 L211.09,980.85 L211.52,980.88 L211.94,980.90 L212.36,980.92 L212.79,980.94 L213.21,980.96 L213.64,980.98 L214.06,981.00 L214.49,981.02 L214.91,981.04 L215.33,981.05 L215.76,981.07 L216.18,981.08 L216.61,981.10 L217.03,981.11 L217.45,981.13 L217.88,981.14 L218.30,981.15 L218.73,981.17 L219.15,981.18 L219.57,981.19 L220.00,981.20 L220.42,981.21 L220.85,981.22 L221.27,981.23 L221.70,981.24 L222.12,981.25 L222.54,981.26 L222.97,981.27 L223.39,981.28 L223.82,981.29 L224.24,981.29 L224.66,981.30 L225.09,981.31 L225.51,981.32 L225.94,981.32 L226.36,981.33 L226.78,981.33 L227.21,981.34 L227.63,981.35 L228.06,981.35 L228.48,981.36 L228.91,981.36 L229.33,981.37 L229.75,981.37 L230.18,981.38 L230.60,981.38 L231.03,981.39 L231.45,981.39" fill="none" stroke="#1b4f8e" stroke-width="2.6" stroke-dasharray="8,5" stroke-linejoin="round"/>
<path d="M61.80,981.50 L62.40,981.50 L62.99,981.50 L63.59,981.50 L64.18,981.50 L64.78,981.50 L65.37,981.50 L65.97,981.50 L66.56,981.50 L67.16,981.50 L67.75,981.50 L68.35,981.50 L68.94,981.50 L69.54,981.50 L70.14,981.50 L70.73,981.50 L71.33,981.50 L71.92,981.50 L72.52,981.50 L73.11,981.50 L73.71,981.50 L74.30,981.50 L74.90,981.50 L75.49,981.50 L76.09,981.50 L76.69,981.50 L77.28,981.50 L77.88,981.50 L78.47,981.50 L79.07,981.50 L79.66,981.50 L80.26,981.50 L80.85,981.50 L81.45,981.50 L82.04,981.50 L82.64,981.50 L83.23,981.50 L83.83,981.50 L84.43,981.50 L85.02,981.50 L85.62,981.50 L86.21,981.50 L86.81,981.50 L87.40,981.49 L88.00,981.49 L88.59,981.49 L89.19,981.49 L89.78,981.48 L90.38,981.48 L90.97,981.47 L91.57,981.46 L92.17,981.45 L92.76,981.43 L93.36,981.41 L93.95,981.39 L94.55,981.37 L95.14,981.33 L95.74,981.30 L96.33,981.25 L96.93,981.20 L97.52,981.13 L98.12,981.06 L98.72,980.98 L99.31,980.88 L99.91,980.77 L100.50,980.65 L101.10,980.50 L101.69,980.34 L102.29,980.16 L102.88,979.96 L103.48,979.73 L104.07,979.48 L104.67,979.21 L105.26,978.90 L105.86,978.57 L106.46,978.20 L107.05,977.80 L107.65,977.37 L108.24,976.90 L108.84,976.39 L109.43,975.84 L110.03,975.25 L110.62,974.63 L111.22,973.96 L111.81,973.24 L112.41,972.48 L113.00,971.68 L113.60,970.83 L114.20,969.93 L114.79,968.98 L115.39,967.99 L115.98,966.95 L116.58,965.86 L117.17,964.73 L117.77,963.55 L118.36,962.32 L118.96,961.04 L119.55,959.72 L120.15,958.36 L120.75,956.95 L121.34,955.50 L121.94,954.01 L122.53,952.48 L123.13,950.91 L123.72,949.31 L124.32,947.67 L124.91,945.99 L125.51,944.29 L126.10,942.55 L126.70,940.79 L127.29,939.01 L127.89,937.20 L128.49,935.37 L129.08,933.53 L129.68,931.66 L130.27,929.79 L130.87,927.90 L131.46,926.01 L132.06,924.10 L132.65,922.20 L133.25,920.29 L133.84,918.39 L134.44,916.49 L135.03,914.60 L135.63,912.71 L136.23,910.84 L136.82,908.97 L137.42,907.13 L138.01,905.30 L138.61,903.49 L139.20,901.71 L139.80,899.94 L140.39,898.21 L140.99,896.50 L141.58,894.82 L142.18,893.17 L142.78,891.55 L143.37,889.97 L143.97,888.43 L144.56,886.92 L145.16,885.46 L145.75,884.03 L146.35,882.64 L146.94,881.30 L147.54,880.00 L148.13,878.74 L148.73,877.53 L149.32,876.37 L149.92,875.25 L150.52,874.18 L151.11,873.15 L151.71,872.18 L152.30,871.25 L152.90,870.38 L153.49,869.55 L154.09,868.77 L154.68,868.04 L155.28,867.36 L155.87,866.73 L156.47,866.14 L157.06,865.61 L157.66,865.13 L158.26,864.69 L158.85,864.30 L159.45,863.96 L160.04,863.67 L160.64,863.42 L161.23,863.22 L161.83,863.06 L162.42,862.95 L163.02,862.89 L163.61,862.86 L164.21,862.88 L164.81,862.94 L165.40,863.05 L166.00,863.19 L166.59,863.37 L167.19,863.60 L167.78,863.86 L168.38,864.15 L168.97,864.48 L169.57,864.85 L170.16,865.25 L170.76,865.69 L171.35,866.16 L171.95,866.65 L172.55,867.18 L173.14,867.74 L173.74,868.33 L174.33,868.94 L174.93,869.58 L175.52,870.25 L176.12,870.94 L176.71,871.65 L177.31,872.39 L177.90,873.14 L178.50,873.92 L179.10,874.72 L179.69,875.54 L180.29,876.37 L180.88,877.22 L181.48,878.09 L182.07,878.98 L182.67,879.87 L183.26,880.78 L183.86,881.71 L184.45,882.64 L185.05,883.59 L185.64,884.55 L186.24,885.51 L186.84,886.49 L187.43,887.47 L188.03,888.46 L188.62,889.46 L189.22,890.46 L189.81,891.47 L190.41,892.48 L191.00,893.49 L191.60,894.51 L192.19,895.54 L192.79,896.56 L193.38,897.58 L193.98,898.61 L194.58,899.64 L195.17,900.66 L195.77,901.69 L196.36,902.71 L196.96,903.74 L197.55,904.76 L198.15,905.78 L198.74,906.79 L199.34,907.81 L199.93,908.82 L200.53,909.82 L201.13,910.82 L201.72,911.82 L202.32,912.81 L202.91,913.79 L203.51,914.77 L204.10,915.75 L204.70,916.71 L205.29,917.67 L205.89,918.63 L206.48,919.57 L207.08,920.51 L207.67,921.45 L208.27,922.37 L208.87,923.29 L209.46,924.20 L210.06,925.10 L210.65,925.99 L211.25,926.88 L211.84,927.75 L212.44,928.62 L213.03,929.48 L213.63,930.33 L214.22,931.17 L214.82,932.00 L215.41,932.82 L216.01,933.63 L216.61,934.44 L217.20,935.23 L217.80,936.02 L218.39,936.79 L218.99,937.56 L219.58,938.32 L220.18,939.06 L220.77,939.80 L221.37,940.53 L221.96,941.25 L222.56,941.96 L223.16,942.66 L223.75,943.35 L224.35,944.03 L224.94,944.70 L225.54,945.36 L226.13,946.02 L226.73,946.66 L227.32,947.30 L227.92,947.92 L228.51,948.54 L229.11,949.15 L229.70,949.74 L230.30,950.33 L230.90,950.91 L231.49,951.48 L232.09,952.05 L232.68,952.60 L233.28,953.15 L233.87,953.68 L234.47,954.21 L235.06,954.73 L235.66,955.24 L236.25,955.74 L236.85,956.24 L237.44,956.73 L238.04,957.20 L238.64,957.67 L239.23,958.14 L239.83,958.59 L240.42,959.04 L241.02,959.48 L241.61,959.91 L242.21,960.34 L242.80,960.75 L243.40,961.16 L243.99,961.57 L244.59,961.96 L245.19,962.35 L245.78,962.73 L246.38,963.11 L246.97,963.48 L247.57,963.84 L248.16,964.20 L248.76,964.54 L249.35,964.89 L249.95,965.22 L250.54,965.55 L251.14,965.88 L251.73,966.20 L252.33,966.51 L252.93,966.81 L253.52,967.12 L254.12,967.41 L254.71,967.70 L255.31,967.98 L255.90,968.26 L256.50,968.54 L257.09,968.80 L257.69,969.07 L258.28,969.33 L258.88,969.58 L259.47,969.83 L260.07,970.07 L260.67,970.31 L261.26,970.54 L261.86,970.77 L262.45,971.00 L263.05,971.22 L263.64,971.44 L264.24,971.65 L264.83,971.85 L265.43,972.06 L266.02,972.26 L266.62,972.45 L267.22,972.65 L267.81,972.83 L268.41,973.02 L269.00,973.20 L269.60,973.38 L270.19,973.55 L270.79,973.72 L271.38,973.88 L271.98,974.05 L272.57,974.21 L273.17,974.36 L273.76,974.52 L274.36,974.67 L274.96,974.81 L275.55,974.96 L276.15,975.10 L276.74,975.24 L277.34,975.37 L277.93,975.50 L278.53,975.63 L279.12,975.76 L279.72,975.89 L280.31,976.01 L280.91,976.13 L281.50,976.24 L282.10,976.36 L282.70,976.47 L283.29,976.58 L283.89,976.69 L284.48,976.79 L285.08,976.89 L285.67,976.99 L286.27,977.09 L286.86,977.19 L287.46,977.28 L288.05,977.38 L288.65,977.47 L289.25,977.55 L289.84,977.64 L290.44,977.73 L291.03,977.81 L291.63,977.89 L292.22,977.97 L292.82,978.05 L293.41,978.12 L294.01,978.20 L294.60,978.27 L295.20,978.34 L295.79,978.41 L296.39,978.48 L296.99,978.55 L297.58,978.61 L298.18,978.67 L298.77,978.74 L299.37,978.80 L299.96,978.86" fill="none" stroke="#13955a" stroke-width="2.6" stroke-linejoin="round"/>
<path d="M61.80,981.50 L62.78,981.50 L63.76,981.50 L64.74,981.50 L65.72,981.50 L66.69,981.50 L67.67,981.50 L68.65,981.50 L69.63,981.50 L70.61,981.50 L71.59,981.50 L72.57,981.50 L73.55,981.50 L74.52,981.50 L75.50,981.50 L76.48,981.50 L77.46,981.50 L78.44,981.50 L79.42,981.50 L80.40,981.50 L81.38,981.50 L82.35,981.50 L83.33,981.50 L84.31,981.50 L85.29,981.50 L86.27,981.50 L87.25,981.50 L88.23,981.50 L89.20,981.50 L90.18,981.50 L91.16,981.50 L92.14,981.50 L93.12,981.50 L94.10,981.50 L95.08,981.50 L96.06,981.50 L97.03,981.50 L98.01,981.50 L98.99,981.50 L99.97,981.50 L100.95,981.50 L101.93,981.50 L102.91,981.50 L103.89,981.50 L104.86,981.50 L105.84,981.50 L106.82,981.50 L107.80,981.50 L108.78,981.50 L109.76,981.50 L110.74,981.50 L111.72,981.50 L112.69,981.50 L113.67,981.50 L114.65,981.50 L115.63,981.50 L116.61,981.50 L117.59,981.50 L118.57,981.50 L119.55,981.50 L120.52,981.50 L121.50,981.50 L122.48,981.49 L123.46,981.49 L124.44,981.49 L125.42,981.49 L126.40,981.48 L127.38,981.48 L128.35,981.47 L129.33,981.47 L130.31,981.46 L131.29,981.45 L132.27,981.44 L133.25,981.43 L134.23,981.42 L135.21,981.40 L136.19,981.38 L137.16,981.36 L138.14,981.34 L139.12,981.31 L140.10,981.28 L141.08,981.24 L142.06,981.20 L143.04,981.16 L144.01,981.10 L144.99,981.05 L145.97,980.98 L146.95,980.91 L147.93,980.83 L148.91,980.74 L149.89,980.64 L150.87,980.54 L151.84,980.42 L152.82,980.29 L153.80,980.15 L154.78,980.00 L155.76,979.83 L156.74,979.66 L157.72,979.46 L158.70,979.26 L159.68,979.04 L160.65,978.80 L161.63,978.54 L162.61,978.27 L163.59,977.98 L164.57,977.67 L165.55,977.35 L166.53,977.00 L167.50,976.64 L168.48,976.25 L169.46,975.84 L170.44,975.42 L171.42,974.97 L172.40,974.50 L173.38,974.01 L174.36,973.50 L175.33,972.97 L176.31,972.42 L177.29,971.84 L178.27,971.24 L179.25,970.62 L180.23,969.98 L181.21,969.32 L182.19,968.64 L183.16,967.94 L184.14,967.22 L185.12,966.47 L186.10,965.71 L187.08,964.93 L188.06,964.14 L189.04,963.32 L190.02,962.49 L191.00,961.64 L191.97,960.77 L192.95,959.90 L193.93,959.00 L194.91,958.10 L195.89,957.18 L196.87,956.25 L197.85,955.31 L198.82,954.36 L199.80,953.40 L200.78,952.43 L201.76,951.46 L202.74,950.48 L203.72,949.50 L204.70,948.52 L205.68,947.53 L206.65,946.54 L207.63,945.55 L208.61,944.56 L209.59,943.57 L210.57,942.59 L211.55,941.60 L212.53,940.63 L213.51,939.66 L214.49,938.69 L215.46,937.74 L216.44,936.79 L217.42,935.85 L218.40,934.92 L219.38,934.00 L220.36,933.10 L221.34,932.21 L222.31,931.33 L223.29,930.47 L224.27,929.62 L225.25,928.79 L226.23,927.98 L227.21,927.18 L228.19,926.40 L229.17,925.64 L230.14,924.90 L231.12,924.18 L232.10,923.48 L233.08,922.81 L234.06,922.15 L235.04,921.51 L236.02,920.90 L237.00,920.31 L237.97,919.74 L238.95,919.20 L239.93,918.67 L240.91,918.18 L241.89,917.70 L242.87,917.25 L243.85,916.83 L244.83,916.42 L245.81,916.05 L246.78,915.69 L247.76,915.36 L248.74,915.06 L249.72,914.78 L250.70,914.52 L251.68,914.29 L252.66,914.08 L253.63,913.89 L254.61,913.73 L255.59,913.59 L256.57,913.47 L257.55,913.38 L258.53,913.31 L259.51,913.26 L260.49,913.24 L261.46,913.23 L262.44,913.25 L263.42,913.29 L264.40,913.35 L265.38,913.43 L266.36,913.53 L267.34,913.65 L268.32,913.79 L269.29,913.95 L270.27,914.13 L271.25,914.32 L272.23,914.53 L273.21,914.76 L274.19,915.01 L275.17,915.27 L276.15,915.55 L277.12,915.85 L278.10,916.16 L279.08,916.48 L280.06,916.82 L281.04,917.17 L282.02,917.54 L283.00,917.91 L283.98,918.30 L284.95,918.71 L285.93,919.12 L286.91,919.54 L287.89,919.98 L288.87,920.42 L289.85,920.88 L290.83,921.34 L291.81,921.82 L292.78,922.30 L293.76,922.79 L294.74,923.28 L295.72,923.79 L296.70,924.30 L297.68,924.81 L298.66,925.34 L299.64,925.86 L300.62,926.40 L301.59,926.94 L302.57,927.48 L303.55,928.02 L304.53,928.57 L305.51,929.13 L306.49,929.68 L307.47,930.24 L308.44,930.80 L309.42,931.37 L310.40,931.93 L311.38,932.50 L312.36,933.07 L313.34,933.63 L314.32,934.20 L315.30,934.77 L316.27,935.34 L317.25,935.91 L318.23,936.48 L319.21,937.05 L320.19,937.61 L321.17,938.18 L322.15,938.74 L323.13,939.31 L324.11,939.87 L325.08,940.42 L326.06,940.98 L327.04,941.54 L328.02,942.09 L329.00,942.64 L329.98,943.18 L330.96,943.73 L331.94,944.26 L332.91,944.80 L333.89,945.33 L334.87,945.86 L335.85,946.39 L336.83,946.91 L337.81,947.43 L338.79,947.94 L339.76,948.45 L340.74,948.96 L341.72,949.46 L342.70,949.96 L343.68,950.45 L344.66,950.94 L345.64,951.42 L346.62,951.90 L347.59,952.38 L348.57,952.84 L349.55,953.31 L350.53,953.77 L351.51,954.22 L352.49,954.67 L353.47,955.12 L354.45,955.56 L355.43,955.99 L356.40,956.42 L357.38,956.85 L358.36,957.27 L359.34,957.68 L360.32,958.09 L361.30,958.49 L362.28,958.89 L363.25,959.29 L364.23,959.68 L365.21,960.06 L366.19,960.44 L367.17,960.81 L368.15,961.18 L369.13,961.55 L370.11,961.90 L371.08,962.26 L372.06,962.61 L373.04,962.95 L374.02,963.29 L375.00,963.62 L375.98,963.95 L376.96,964.28 L377.94,964.60 L378.92,964.91 L379.89,965.22 L380.87,965.52 L381.85,965.82 L382.83,966.12 L383.81,966.41 L384.79,966.70 L385.77,966.98 L386.75,967.26 L387.72,967.53 L388.70,967.80 L389.68,968.06 L390.66,968.32 L391.64,968.58 L392.62,968.83 L393.60,969.08 L394.57,969.32 L395.55,969.56 L396.53,969.79 L397.51,970.02 L398.49,970.25 L399.47,970.47 L400.45,970.69 L401.43,970.91 L402.40,971.12 L403.38,971.33 L404.36,971.53 L405.34,971.73 L406.32,971.93 L407.30,972.12 L408.28,972.31 L409.26,972.50 L410.24,972.68 L411.21,972.86 L412.19,973.04 L413.17,973.21 L414.15,973.38 L415.13,973.55 L416.11,973.71 L417.09,973.88 L418.06,974.03 L419.04,974.19 L420.02,974.34 L421.00,974.49 L421.98,974.64 L422.96,974.78 L423.94,974.92 L424.92,975.06 L425.89,975.19 L426.87,975.33 L427.85,975.46 L428.83,975.58 L429.81,975.71 L430.79,975.83 L431.77,975.95 L432.75,976.07 L433.72,976.19 L434.70,976.30 L435.68,976.41 L436.66,976.52 L437.64,976.63 L438.62,976.73 L439.60,976.83 L440.58,976.93 L441.56,977.03 L442.53,977.13 L443.51,977.22 L444.49,977.32 L445.47,977.41 L446.45,977.49 L447.43,977.58 L448.41,977.67 L449.38,977.75 L450.36,977.83 L451.34,977.91 L452.32,977.99 L453.30,978.07" fill="none" stroke="#d8272e" stroke-width="2.6" stroke-dasharray="8.5,4.5,2.5,4.5" stroke-linejoin="round"/>
<text x="61.80" y="1015.20" font-size="26" text-anchor="middle" font-weight="normal" font-style="normal" fill="#111" >0</text>
<text x="192.30" y="1015.20" font-size="26" text-anchor="middle" font-weight="normal" font-style="normal" fill="#111" >100</text>
<rect x="171.92" y="1012.34" width="5.25" height="4.16" fill="#fff"/>
<rect x="179.27" y="1012.34" width="5.12" height="4.16" fill="#fff"/>
<text x="322.80" y="1015.20" font-size="26" text-anchor="middle" font-weight="normal" font-style="normal" fill="#111" >200</text>
<text x="453.30" y="1015.20" font-size="26" text-anchor="middle" font-weight="normal" font-style="normal" fill="#111" >300</text>
<text transform="translate(33.2,859.1) rotate(-90)" x="0" y="0" font-size="31.2" text-anchor="middle" fill="#111">relative frequency</text>
<text x="257.90" y="1064.40" font-size="31" text-anchor="middle" font-weight="normal" font-style="normal" fill="#111" >time (hr)</text>
<line x1="274.20" y1="775.50" x2="297.30" y2="775.50" stroke="#1b4f8e" stroke-width="2.6" stroke-dasharray="9.5,4"/>
<line x1="274.20" y1="816.20" x2="297.30" y2="816.20" stroke="#13955a" stroke-width="2.6" />
<line x1="274.20" y1="856.90" x2="292.70" y2="856.90" stroke="#d8272e" stroke-width="2.6" stroke-dasharray="10,5,3.5,50"/>
<text x="308.0" y="786.6" font-size="29.8" font-style="italic" fill="#111">Bcl-x<tspan font-size="24" dy="-10.4">+/Plt20</tspan></text>
<text x="306.7" y="826.4" font-size="31" fill="#111">wild-type</text>
<text x="308.2" y="869.6" font-size="30.5" font-style="italic" fill="#111">Bak<tspan font-size="23.5" dy="-11">-/-</tspan></text>
</svg>
</body></html>
